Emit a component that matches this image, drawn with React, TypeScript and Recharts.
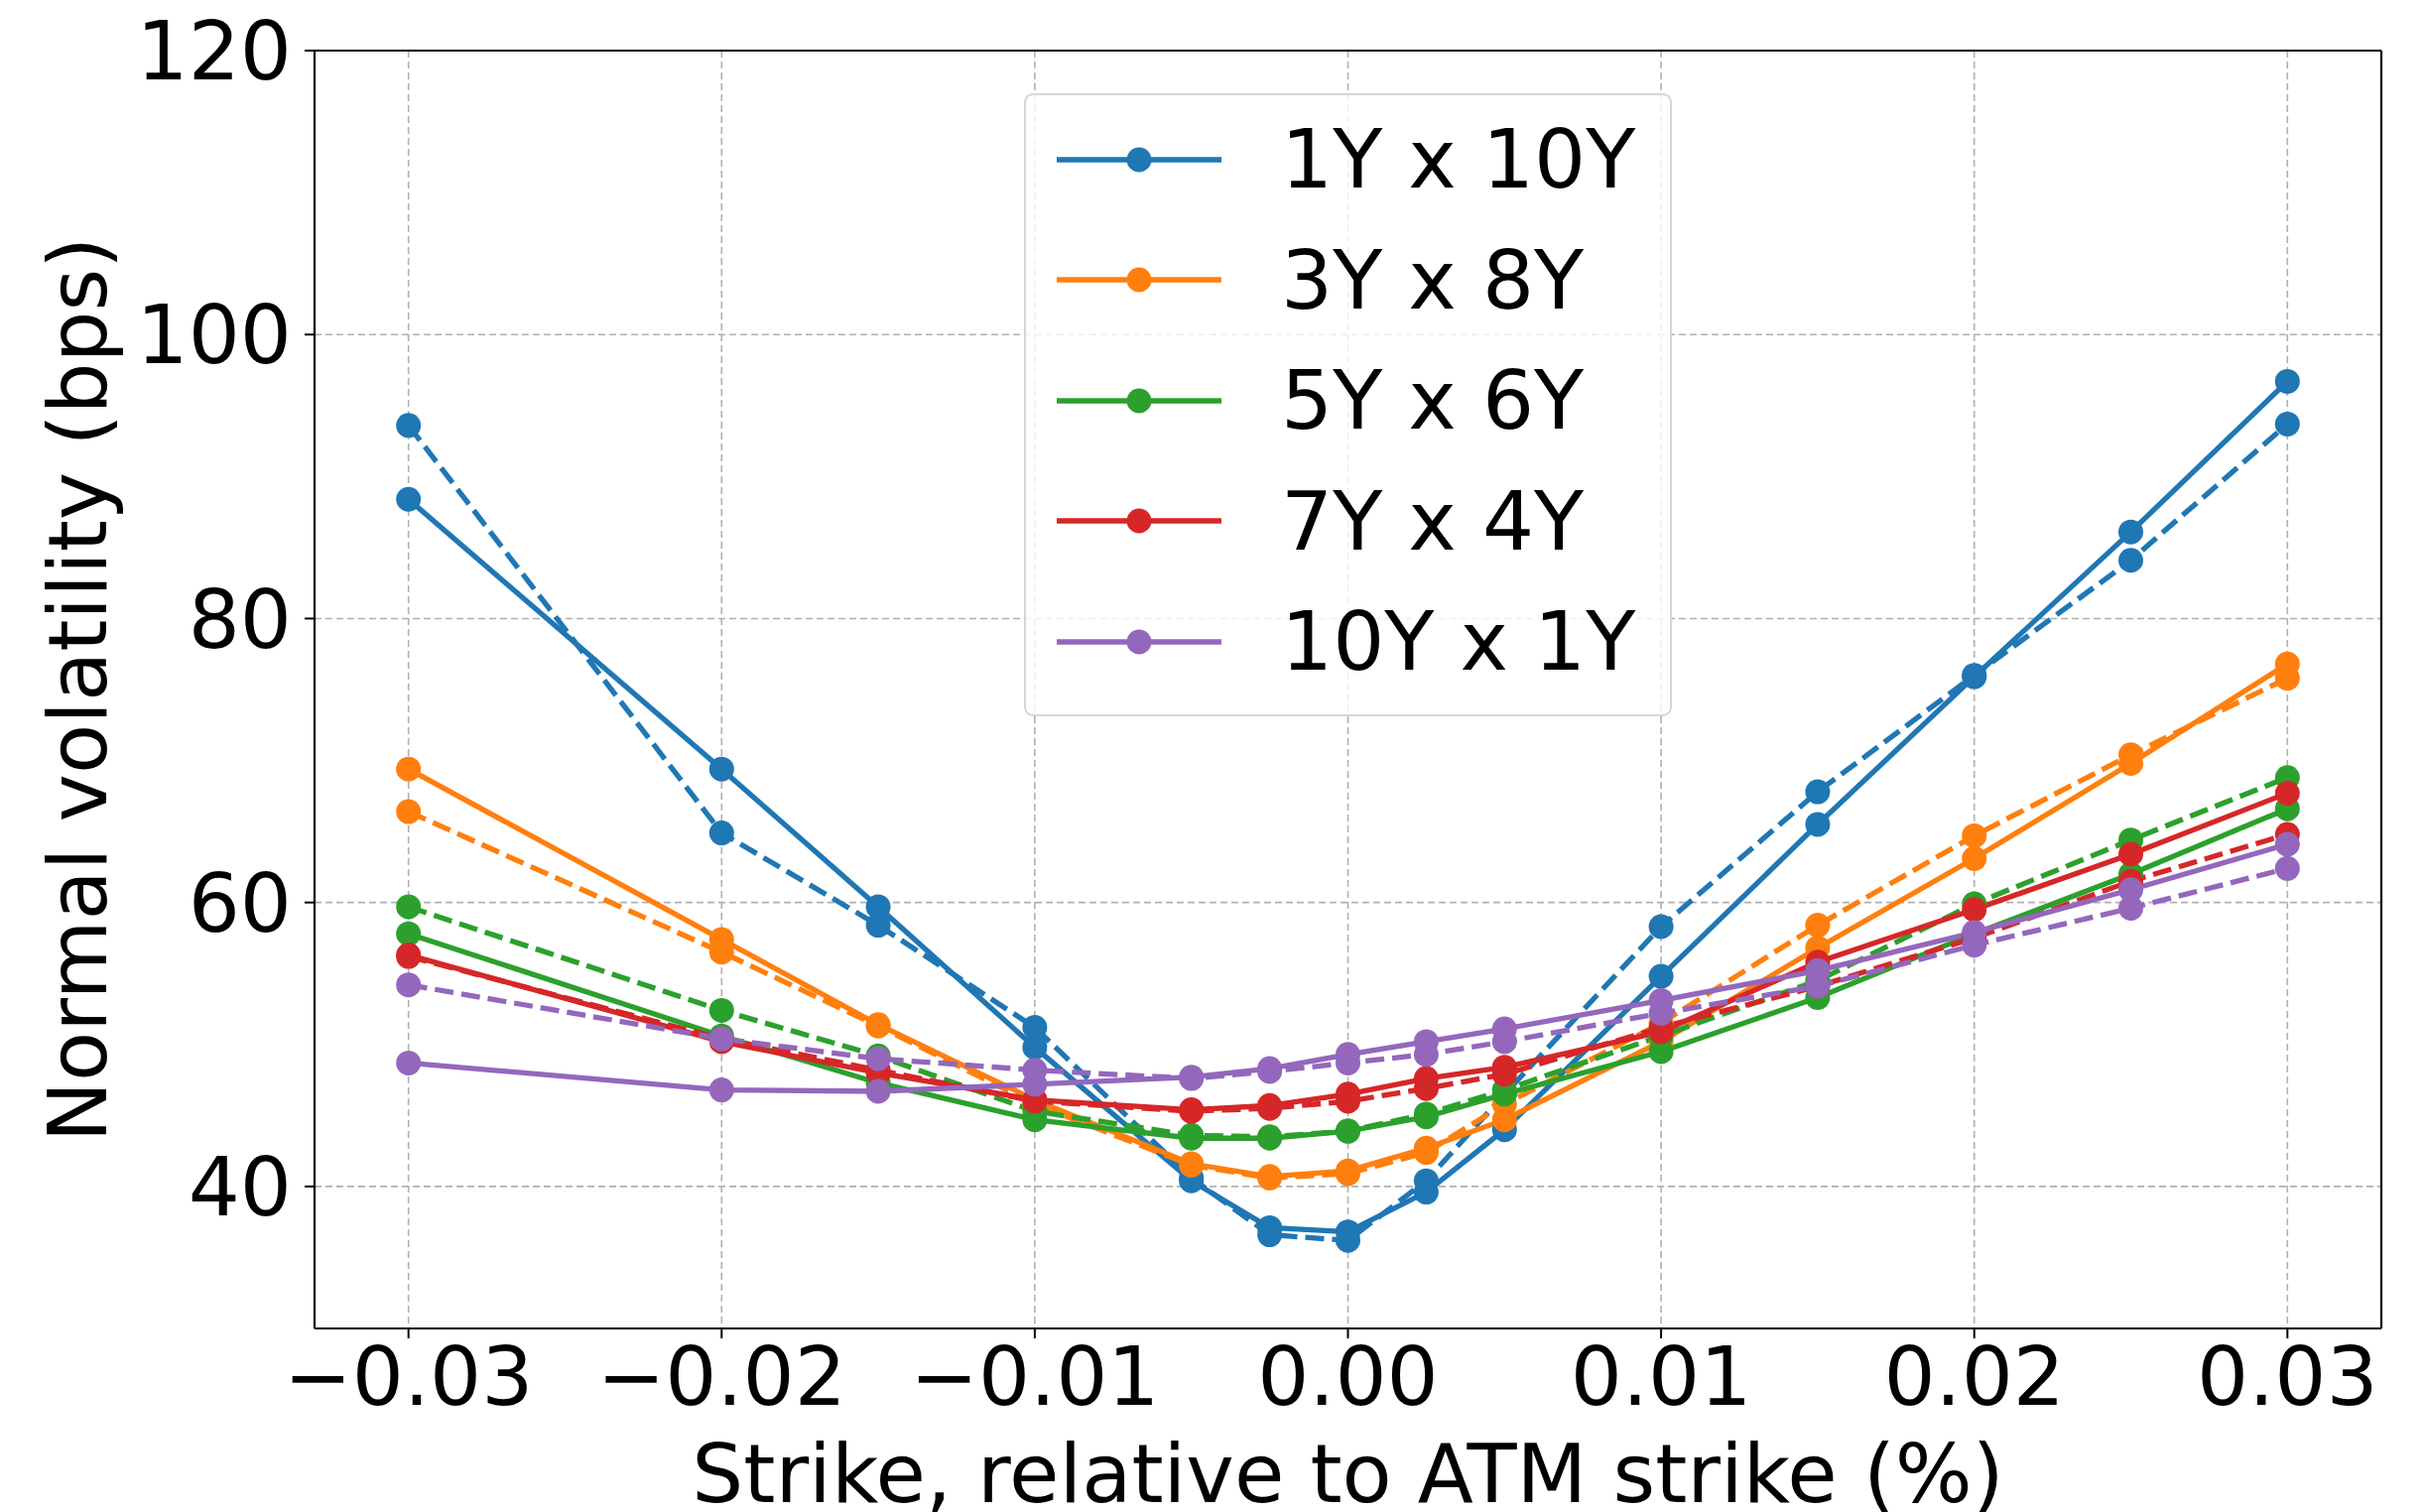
import React from 'react';
import { LineChart, Line, XAxis, YAxis, CartesianGrid, Legend, Label, ReferenceLine } from 'recharts';

const strikes = [-0.03, -0.02, -0.015, -0.01, -0.005, -0.0025, 0, 0.0025, 0.005, 0.01, 0.015, 0.02, 0.025, 0.03];
const seriesNames = ['1Y x 10Y', '3Y x 8Y', '5Y x 6Y', '7Y x 4Y', '10Y x 1Y'];
const colors = ['#1f77b4', '#ff7f0e', '#2ca02c', '#d62728', '#9467bd'];

const solid1Yx10Y = [88.4, 69.4, 59.7, 49.8, 40.4, 37.1, 36.8, 39.6, 44.0, 54.8, 65.5, 75.9, 86.1, 96.7];
const dashed1Yx10Y = [93.6, 64.9, 58.4, 51.2, 40.6, 36.6, 36.2, 40.4, 46.5, 58.3, 67.8, 76.0, 84.1, 93.7];
const solid3Yx8Y = [69.4, 57.4, 51.4, 46.1, 41.6, 40.7, 41.1, 42.7, 44.7, 50.2, 56.8, 63.1, 69.8, 76.8];
const dashed3Yx8Y = [66.4, 56.5, 51.3, 45.8, 41.5, 40.6, 40.9, 42.4, 45.8, 51.5, 58.4, 64.7, 70.4, 75.8];
const solid5Yx6Y = [57.8, 50.6, 47.3, 44.7, 43.4, 43.4, 43.9, 44.9, 46.5, 49.5, 53.3, 57.8, 62.0, 66.6];
const dashed5Yx6Y = [59.7, 52.4, 49.2, 45.3, 43.6, 43.5, 43.9, 45.1, 46.8, 50.6, 54.5, 59.9, 64.4, 68.8];
const solid7Yx4Y = [56.3, 50.2, 48.0, 46.1, 45.4, 45.7, 46.5, 47.6, 48.4, 50.9, 55.8, 59.5, 63.4, 67.7];
const dashed7Yx4Y = [56.2, 50.4, 48.2, 46.0, 45.3, 45.5, 46.0, 46.9, 47.9, 51.2, 54.1, 57.5, 61.5, 64.8];
const solid10Yx1Y = [48.7, 46.8, 46.7, 47.2, 47.7, 48.3, 49.3, 50.2, 51.1, 53.1, 55.2, 57.9, 60.9, 64.1];
const dashed10Yx1Y = [54.2, 50.4, 49.0, 48.2, 47.6, 48.1, 48.7, 49.3, 50.2, 52.2, 54.1, 57.0, 59.6, 62.4];

const xTicks = [-0.03, -0.02, -0.01, 0, 0.01, 0.02, 0.03];
const yTicks = [40, 60, 80, 100, 120];
const xDomain = [-0.033, 0.033];
const yDomain = [30, 120];
const xLabel = 'Strike, relative to ATM strike (%)';
const yLabel = 'Normal volatility (bps)';

const solids = [solid1Yx10Y, solid3Yx8Y, solid5Yx6Y, solid7Yx4Y, solid10Yx1Y];
const dasheds = [dashed1Yx10Y, dashed3Yx8Y, dashed5Yx6Y, dashed7Yx4Y, dashed10Yx1Y];

const data = strikes.map((s, i) => {
  const row: Record<string, number> = { strike: s };
  solids.forEach((arr, k) => { row['s' + k] = arr[i]; });
  dasheds.forEach((arr, k) => { row['d' + k] = arr[i]; });
  return row;
});

const FONT = 'DejaVu Sans';
const FS = 82;
const LW = 5.3;
const R = 12.5;

const fmtX = (v: number) => (v < 0 ? '\u2212' : '') + Math.abs(v).toFixed(2);

const LegendBox = (props: any) => {
  const payload = (props.payload || [])
    .filter((p: any) => p.type !== 'none' && seriesNames.indexOf(p.value) >= 0)
    .slice()
    .sort((a: any, b: any) => seriesNames.indexOf(a.value) - seriesNames.indexOf(b.value));
  return (
    <div style={{
      width: 653, height: 628, boxSizing: 'border-box', border: '2px solid #d6d6d6', borderRadius: 9,
      background: 'rgba(255,255,255,0.8)', paddingTop: 4, fontFamily: FONT, fontSize: FS, color: '#000',
    }}>
      {payload.map((p: any, i: number) => (
        <div key={i} style={{ height: 121.5, display: 'flex', alignItems: 'center', whiteSpace: 'nowrap' }}>
          <svg width={166} height={40} style={{ marginLeft: 31, marginRight: 60, overflow: 'visible' }}>
            <line x1={0} y1={20} x2={166} y2={20} stroke={p.color} strokeWidth={LW} />
            <circle cx={83} cy={20} r={R} fill={p.color} />
          </svg>
          <span style={{ lineHeight: '121.5px' }}>{p.value}</span>
        </div>
      ))}
    </div>
  );
};

export default function App() {
  return (
    <div style={{ position: 'absolute', left: 0, top: 0, background: '#fff', fontFamily: FONT }}>
      <LineChart width={2444} height={1524} data={data} margin={{ top: 51, right: 44, bottom: 0, left: 0 }}>
        <CartesianGrid stroke="#b0b0b0" strokeWidth={1.6} strokeDasharray="7 4" />
        <XAxis
          dataKey="strike" type="number" domain={xDomain} ticks={xTicks} tickFormatter={fmtX}
          height={185} tickSize={10} tickMargin={9}
          axisLine={{ stroke: '#000', strokeWidth: 2.2 }} tickLine={{ stroke: '#000', strokeWidth: 2 }}
          tick={{ fontSize: FS, fill: '#000', fontFamily: FONT }} interval={0} allowDataOverflow
        >
          <Label content={(p: any) => {
            const vb = p.viewBox || { x: 317, y: 1339, width: 2083 };
            return <text x={vb.x + vb.width / 2} y={vb.y + 175} textAnchor="middle" fontSize={FS} fontFamily={FONT} fill="#000">{xLabel}</text>;
          }} />
        </XAxis>
        <YAxis
          type="number" domain={yDomain} ticks={yTicks} width={317} tickSize={10} tickMargin={13}
          axisLine={{ stroke: '#000', strokeWidth: 2.2 }} tickLine={{ stroke: '#000', strokeWidth: 2 }}
          tick={{ fontSize: FS, fill: '#000', fontFamily: FONT }} interval={0} allowDataOverflow
        >
          <Label content={(p: any) => {
            const vb = p.viewBox || { x: 0, y: 51, height: 1288 };
            const cx = 107;
            const cy = vb.y + vb.height / 2;
            return <text x={cx} y={cy} transform={`rotate(-90, ${cx}, ${cy})`} textAnchor="middle" fontSize={FS} fontFamily={FONT} fill="#000">{yLabel}</text>;
          }} />
        </YAxis>
        <ReferenceLine y={yDomain[1]} stroke="#000" strokeWidth={2.2} ifOverflow="extendDomain" />
        <ReferenceLine x={xDomain[1]} stroke="#000" strokeWidth={2.2} ifOverflow="extendDomain" />
        {seriesNames.map((name, k) => [
          <Line key={'s' + k} type="linear" dataKey={'s' + k} name={name} stroke={colors[k]} strokeWidth={LW}
            dot={{ r: R, fill: colors[k], stroke: 'none', strokeWidth: 0 }} activeDot={false} isAnimationActive={false} />,
          <Line key={'d' + k} type="linear" dataKey={'d' + k} name={name + ' (dashed)'} legendType="none" stroke={colors[k]} strokeWidth={LW}
            strokeDasharray="19 8"
            dot={{ r: R, fill: colors[k], stroke: 'none', strokeWidth: 0, strokeDasharray: '0' }} activeDot={false} isAnimationActive={false} />,
        ])}
        <Legend layout="vertical" align="center" verticalAlign="middle" content={LegendBox}
          wrapperStyle={{ left: 1032, top: 94, width: 653, height: 628 }} />
      </LineChart>
    </div>
  );
}
